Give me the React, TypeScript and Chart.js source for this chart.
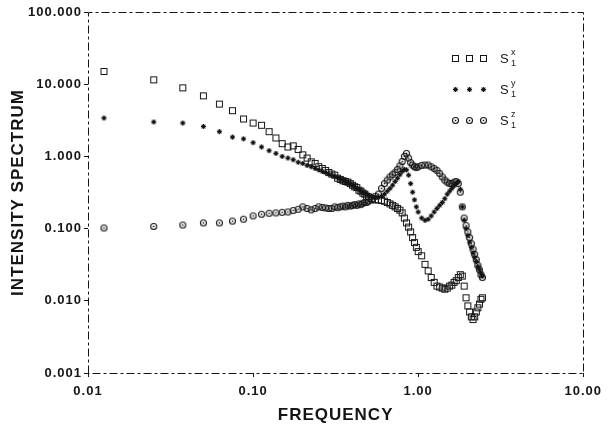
import { useEffect, useRef } from 'react';
import { Chart, registerables } from 'chart.js';

Chart.register(...registerables);

// ---- data ----
const freq = [
  0.0125, 0.025, 0.0375, 0.05, 0.0625, 0.075, 0.0875, 0.1, 0.1125, 0.125,
  0.1375, 0.15, 0.1625, 0.175, 0.1875, 0.2, 0.2125, 0.225, 0.2375, 0.25,
  0.2625, 0.275, 0.2875, 0.3, 0.3125, 0.325, 0.3375, 0.35, 0.3625, 0.375,
  0.3875, 0.4, 0.4125, 0.425, 0.4375, 0.45, 0.4625, 0.475, 0.4875, 0.5,
  0.525, 0.55, 0.575, 0.6, 0.625, 0.65, 0.675, 0.7, 0.725, 0.75,
  0.775, 0.8, 0.825, 0.85, 0.875, 0.9, 0.925, 0.95, 0.975, 1.0,
  1.05, 1.1, 1.15, 1.2, 1.25, 1.3, 1.35, 1.4, 1.45, 1.5,
  1.55, 1.6, 1.65, 1.7, 1.75, 1.8, 1.85, 1.9, 1.95, 2.0,
  2.05, 2.1, 2.15, 2.2, 2.25, 2.3, 2.35, 2.4, 2.45,
];

const s1x = [
  15, 11.5, 8.9, 6.9, 5.3, 4.3, 3.3, 2.9, 2.7, 2.2,
  1.8, 1.5, 1.35, 1.4, 1.25, 1.05, 0.95, 0.84, 0.8, 0.72,
  0.68, 0.64, 0.6, 0.57, 0.55, 0.5, 0.48, 0.46, 0.45, 0.44,
  0.42, 0.4, 0.38, 0.37, 0.34, 0.33, 0.31, 0.3, 0.28, 0.275,
  0.26, 0.25, 0.25, 0.245, 0.24, 0.23, 0.22, 0.21, 0.2, 0.19,
  0.18, 0.165, 0.14, 0.12, 0.105, 0.09, 0.075, 0.064, 0.055, 0.048,
  0.042, 0.032, 0.026, 0.021, 0.018, 0.016, 0.0155, 0.015, 0.0145, 0.015,
  0.016, 0.0165, 0.018, 0.019, 0.021, 0.023, 0.022, 0.016, 0.011, 0.0085,
  0.007, 0.006, 0.0055, 0.006, 0.007, 0.008, 0.009, 0.0105, 0.011,
];

const s1y = [
  3.4, 3.0, 2.9, 2.6, 2.2, 1.85, 1.75, 1.55, 1.35, 1.2,
  1.1, 1.0, 0.95, 0.9, 0.83, 0.8, 0.75, 0.72, 0.68, 0.65,
  0.62, 0.6, 0.57, 0.55, 0.53, 0.51, 0.48, 0.47, 0.45, 0.43,
  0.42, 0.4, 0.38, 0.36, 0.35, 0.33, 0.32, 0.31, 0.3, 0.29,
  0.28, 0.27, 0.27, 0.28, 0.3, 0.33, 0.36, 0.4, 0.45, 0.5,
  0.56, 0.62, 0.66, 0.65, 0.55, 0.42, 0.32, 0.25, 0.2, 0.17,
  0.14, 0.13, 0.135, 0.15, 0.17, 0.19, 0.21, 0.23, 0.26, 0.3,
  0.33, 0.36, 0.39, 0.42, 0.45, 0.35, 0.2, 0.13, 0.1, 0.08,
  0.065, 0.055, 0.046, 0.04, 0.035, 0.03, 0.027, 0.024, 0.022,
];

const s1z = [
  0.102, 0.107, 0.112, 0.12, 0.12, 0.127, 0.135, 0.15, 0.158, 0.163,
  0.165, 0.168, 0.17, 0.178, 0.185, 0.2, 0.19, 0.182, 0.19, 0.2,
  0.196, 0.193, 0.19, 0.19, 0.2, 0.195, 0.2, 0.205, 0.2, 0.21,
  0.205, 0.21, 0.215, 0.21, 0.22, 0.215, 0.225, 0.23, 0.23, 0.24,
  0.25, 0.28, 0.3, 0.36, 0.42, 0.47, 0.52, 0.56, 0.6, 0.66,
  0.74, 0.85, 1.0, 1.1, 0.95, 0.82, 0.76, 0.72, 0.7, 0.72,
  0.75, 0.76, 0.76, 0.72, 0.68, 0.64, 0.58, 0.52, 0.47, 0.44,
  0.42, 0.42, 0.44, 0.45, 0.42, 0.32, 0.2, 0.14, 0.11, 0.09,
  0.075, 0.062, 0.052, 0.044, 0.037, 0.031, 0.027, 0.023, 0.021,
];

const xTickValues = [0.01, 0.1, 1, 10];
const yTickValues = [0.001, 0.01, 0.1, 1, 10, 100];
const xTitle = 'FREQUENCY';
const yTitle = 'INTENSITY SPECTRUM';
const seriesBase = 'S';
const seriesSub = '1';
const seriesSup = ['x', 'y', 'z'];
const seriesLabels = ['S1x', 'S1y', 'S1z'];

// ---- styling ----
const INK = '#151515';
const FAMILY = '"Liberation Sans", Arial, Helvetica, sans-serif';
const FRAME_DASH = [8, 3, 3, 3];

function makeMarker(kind: string): HTMLCanvasElement {
  const c = document.createElement('canvas');
  const s = kind === 'star' ? 7 : 9;
  c.width = s;
  c.height = s;
  const g = c.getContext('2d') as CanvasRenderingContext2D;
  g.strokeStyle = INK;
  g.fillStyle = INK;
  g.lineWidth = 1;
  const m = s / 2;
  if (kind === 'square') {
    g.strokeRect(1.5, 1.5, 6, 6);
  } else if (kind === 'star') {
    g.lineWidth = 1.1;
    g.beginPath();
    g.moveTo(m, m - 2.6); g.lineTo(m, m + 2.6);
    g.moveTo(m - 2.6, m); g.lineTo(m + 2.6, m);
    g.moveTo(m - 1.9, m - 1.9); g.lineTo(m + 1.9, m + 1.9);
    g.moveTo(m - 1.9, m + 1.9); g.lineTo(m + 1.9, m - 1.9);
    g.stroke();
  } else {
    g.lineWidth = 1.1;
    g.beginPath();
    g.arc(m, m, 3, 0, Math.PI * 2);
    g.stroke();
    g.fillRect(m - 0.75, m - 0.75, 1.5, 1.5);
  }
  return c;
}

const decadeTicks = (values: number[]) => (scale: any) => {
  scale.ticks = values.map((v) => ({ value: v }));
};

export default function App() {
  const ref = useRef<HTMLCanvasElement | null>(null);

  useEffect(() => {
    const canvas = ref.current;
    if (!canvas) return;
    const markers = [makeMarker('square'), makeMarker('star'), makeMarker('circle')];
    const series = [s1x, s1y, s1z];

    const spacingPlugin = {
      id: 'spacing',
      beforeLayout(chart: any) { chart.ctx.letterSpacing = '1px'; },
      beforeDraw(chart: any) { chart.ctx.letterSpacing = '1px'; },
    };

    const framePlugin = {
      id: 'dashedFrame',
      beforeDatasetsDraw(chart: any) {
        const { left, right, top, bottom } = chart.chartArea;
        const ctx = chart.ctx as CanvasRenderingContext2D;
        ctx.save();
        ctx.strokeStyle = INK;
        ctx.lineWidth = 1;
        ctx.setLineDash(FRAME_DASH);
        ctx.beginPath();
        ctx.moveTo(Math.round(left) + 0.5, Math.round(bottom) + 0.5);
        ctx.lineTo(Math.round(left) + 0.5, Math.round(top) + 0.5);
        ctx.lineTo(Math.round(right) + 0.5, Math.round(top) + 0.5);
        ctx.lineTo(Math.round(right) + 0.5, Math.round(bottom) + 0.5);
        ctx.lineTo(Math.round(left) + 0.5, Math.round(bottom) + 0.5);
        ctx.stroke();
        ctx.restore();
      },
    };

    const legendPlugin = {
      id: 'sketchLegend',
      afterDraw(chart: any) {
        const ctx = chart.ctx as CanvasRenderingContext2D;
        const rows = [58, 89, 120];
        const cols = [455, 469, 483];
        ctx.save();
        ctx.fillStyle = INK;
        ctx.textAlign = 'left';
        ctx.textBaseline = 'middle';
        markers.forEach((img, i) => {
          cols.forEach((cx) => ctx.drawImage(img, Math.round(cx - img.width / 2), Math.round(rows[i] - img.height / 2)));
          ctx.font = `13px ${FAMILY}`;
          ctx.fillText(seriesBase, 500, rows[i] + 1);
          ctx.font = `9px ${FAMILY}`;
          ctx.fillText(seriesSup[i], 511, rows[i] - 5);
          ctx.fillText(seriesSub, 511, rows[i] + 6);
        });
        ctx.restore();
      },
    };

    const noBorder = { display: false };

    const chart = new Chart(canvas, {
      type: 'scatter',
      data: {
        datasets: series.map((vals, i) => ({
          label: seriesLabels[i],
          data: freq.map((f, j) => ({ x: f, y: vals[j] })),
          pointStyle: markers[i] as any,
          pointRadius: 4,
          showLine: false,
        })),
      },
      options: {
        animation: false,
        responsive: false,
        devicePixelRatio: 1,
        layout: { padding: 0 },
        plugins: { legend: { display: false }, tooltip: { enabled: false } },
        scales: {
          x: {
            type: 'logarithmic',
            position: 'bottom',
            min: 0.01,
            max: 10,
            afterBuildTicks: decadeTicks(xTickValues),
            afterFit: (s: any) => { s.height = 53; },
            grid: { drawOnChartArea: false, drawTicks: true, tickLength: 4, color: INK },
            border: noBorder,
            ticks: {
              callback: (v: any) => Number(v).toFixed(2),
              font: { family: FAMILY, size: 13, weight: 'bold' },
              color: INK,
              padding: 7,
              maxRotation: 0,
              autoSkip: false,
            },
            title: { display: true, text: xTitle, font: { family: FAMILY, size: 17, weight: 'bold' }, color: INK, padding: { top: 0, bottom: 0 } },
          },
          x2: {
            type: 'logarithmic',
            position: 'top',
            min: 0.01,
            max: 10,
            afterBuildTicks: decadeTicks(xTickValues),
            afterFit: (s: any) => { s.height = 12; },
            grid: { drawOnChartArea: false, drawTicks: false },
            border: noBorder,
            ticks: { display: false },
          },
          y: {
            type: 'logarithmic',
            position: 'left',
            min: 0.001,
            max: 100,
            afterBuildTicks: decadeTicks(yTickValues),
            afterFit: (s: any) => { s.width = 88; },
            grid: { drawOnChartArea: false, drawTicks: true, tickLength: 4, color: INK },
            border: noBorder,
            ticks: {
              callback: (v: any) => Number(v).toFixed(3),
              font: { family: FAMILY, size: 13, weight: 'bold' },
              color: INK,
              padding: 2,
              autoSkip: false,
            },
            title: { display: true, text: yTitle, font: { family: FAMILY, size: 17, weight: 'bold' }, color: INK, padding: { top: 8, bottom: 0 } },
          },
          y2: {
            type: 'logarithmic',
            position: 'right',
            min: 0.001,
            max: 100,
            afterBuildTicks: decadeTicks(yTickValues),
            afterFit: (s: any) => { s.width = 19; },
            grid: { drawOnChartArea: false, drawTicks: false },
            border: noBorder,
            ticks: { display: false },
          },
        },
      } as any,
      plugins: [spacingPlugin, framePlugin, legendPlugin],
    });

    return () => chart.destroy();
  }, []);

  return (
    <div style={{ position: 'absolute', left: 0, top: 0, width: 609, height: 426, background: '#fff' }}>
      <canvas ref={ref} width={609} height={426} style={{ display: 'block' }} />
    </div>
  );
}
